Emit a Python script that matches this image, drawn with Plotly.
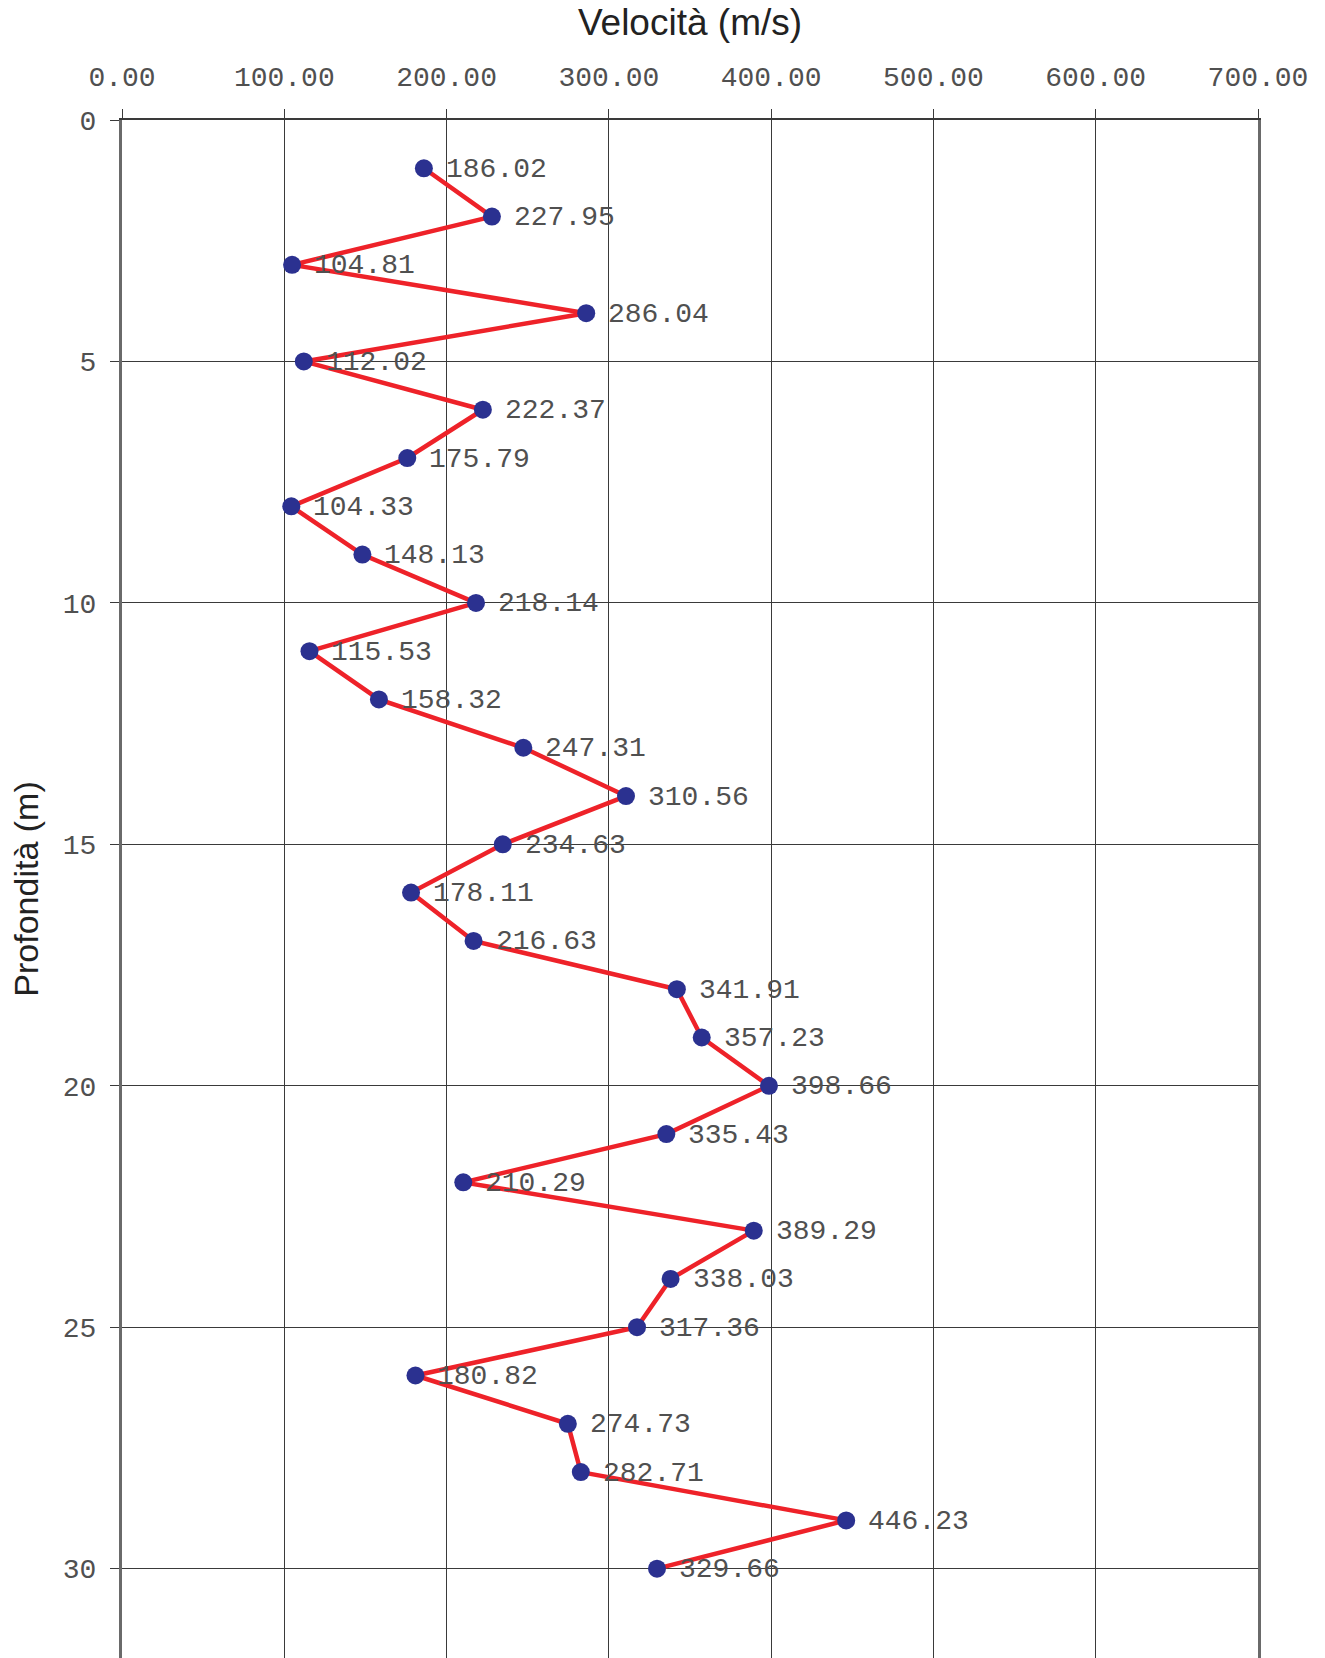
import plotly.graph_objects as go

depths = list(range(1, 31))
velocities = [186.02, 227.95, 104.81, 286.04, 112.02, 222.37, 175.79, 104.33, 148.13, 218.14,
              115.53, 158.32, 247.31, 310.56, 234.63, 178.11, 216.63, 341.91, 357.23, 398.66,
              335.43, 210.29, 389.29, 338.03, 317.36, 180.82, 274.73, 282.71, 446.23, 329.66]
labels = [f"{v:.2f}" for v in velocities]

x_title = "Velocità (m/s)"
y_title = "Profondità (m)"

mono = "Liberation Mono"

fig = go.Figure()
fig.add_trace(go.Scatter(
    x=velocities, y=depths, mode="lines+markers",
    line=dict(color="#EE2229", width=4.5),
    marker=dict(color="#2B3190", size=18),
    cliponaxis=False, showlegend=False,
))

for v, d, t in zip(velocities, depths, labels):
    fig.add_annotation(
        x=v, y=d, text=t, showarrow=False, xanchor="left", yanchor="middle",
        xshift=20, yshift=-1,
        font=dict(family=mono, size=28, color="#505050"),
    )

fig.update_layout(
    width=1325, height=1658,
    margin=dict(l=122, r=67, t=120, b=0),
    paper_bgcolor="white", plot_bgcolor="white",
    xaxis=dict(
        range=[0, 700], side="top", dtick=100, tick0=0, tickformat=".2f",
        showgrid=True, gridcolor="#3a3a3a", gridwidth=1,
        ticks="outside", ticklen=9, tickcolor="#3a3a3a", tickwidth=1,
        showline=True, linecolor="#3a3a3a", linewidth=2,
        zeroline=False, ticklabelstandoff=12,
        tickfont=dict(family=mono, size=28, color="#505050"),
        title=dict(text=x_title, font=dict(family="Liberation Sans", size=37, color="#222222"), standoff=16),
    ),
    yaxis=dict(
        range=[31.85, 0], dtick=5, tick0=0,
        showgrid=True, gridcolor="#3a3a3a", gridwidth=1,
        ticks="outside", ticklen=9, tickcolor="#3a3a3a", tickwidth=1,
        showline=True, linecolor="#6a6a6a", linewidth=3, mirror=True,
        zeroline=False, ticklabelstandoff=8,
        tickfont=dict(family=mono, size=28, color="#505050"),
        title=dict(text=y_title, font=dict(family="Liberation Sans", size=34, color="#222222"), standoff=14),
    ),
)

fig.write_html("out.html")
